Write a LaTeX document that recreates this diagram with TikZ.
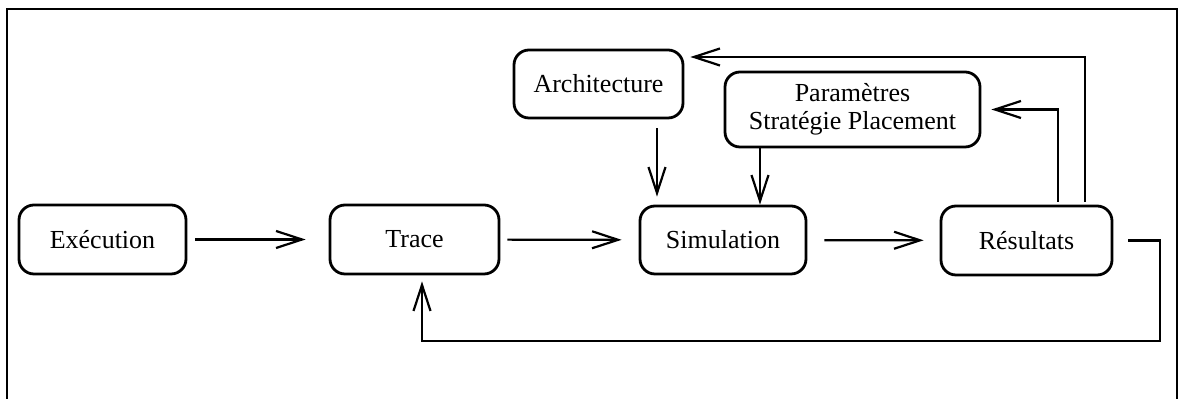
\documentclass[tikz,border=0pt]{standalone}
\usepackage{fontspec}
\setmainfont{Liberation Serif}
\usetikzlibrary{arrows.meta}
\begin{document}
\begin{tikzpicture}[x=0.5pt,y=-0.5pt,
  box/.style={draw, line width=1.4pt, rounded corners=7.5pt, inner sep=0pt,
    align=center, font=\fontsize{13}{14}\selectfont},
  arr/.style={line width=1.1pt,
    -{Straight Barb[length=13pt,width=8.5pt,line width=1.1pt]}},
  frame/.style={line width=0.7pt}]
\useasboundingbox (0,0) rectangle (1184,399);
% outer frame (open at the bottom)
\draw[frame] (7,399) -- (7,9) -- (1177,9) -- (1177,399);

% process boxes
\node[box, minimum width=83.5pt, minimum height=34.5pt] (exe) at (102.5,239.5) {Exécution};
\node[box, minimum width=84.5pt, minimum height=34.5pt] (trace) at (414.5,239.5) {Trace};
\node[box, minimum width=83pt, minimum height=34pt] (sim) at (723,240) {Simulation};
\node[box, minimum width=85.5pt, minimum height=34.5pt] (res) at (1026.5,240.5) {Résultats};
\node[box, minimum width=84.5pt, minimum height=34pt] (arch) at (598.5,84) {Architecture};
\node[box, minimum width=127.5pt, minimum height=37.5pt] (param) at (852.5,109.5)
  {Paramètres\\Stratégie Placement};

% main chain
\draw[arr, shorten <=4pt, shorten >=11.5pt] (exe) -- (trace);
\draw[arr, shorten <=3.5pt, shorten >=8.5pt] (trace) -- (sim);
\draw[arr, shorten <=8.5pt, shorten >=8pt] (sim) -- (res);

% inputs of the simulation
\draw[arr, shorten <=4.5pt, shorten >=4pt]
  ([xshift=29.25pt]arch.south) -- ([xshift=29.25pt]arch.south |- sim.north);
\draw[arr] ([xshift=-46.25pt]param.south) -- ([xshift=-46.25pt]param.south |- sim.north);

% feedback from the results
\draw[arr, shorten >=3pt]
  ([xshift=29.25pt,yshift=1.5pt]res.north) |- ([yshift=13.5pt]arch.east);
\draw[arr, shorten >=5pt]
  ([xshift=15.75pt,yshift=1.5pt]res.north) |- (param.east);
\coordinate (loop) at (1160,341);
\draw[arr, shorten <=7.5pt, shorten >=3pt]
  (res.east) -| (loop) -| ([xshift=3.75pt]trace.south);
\end{tikzpicture}
\end{document}
